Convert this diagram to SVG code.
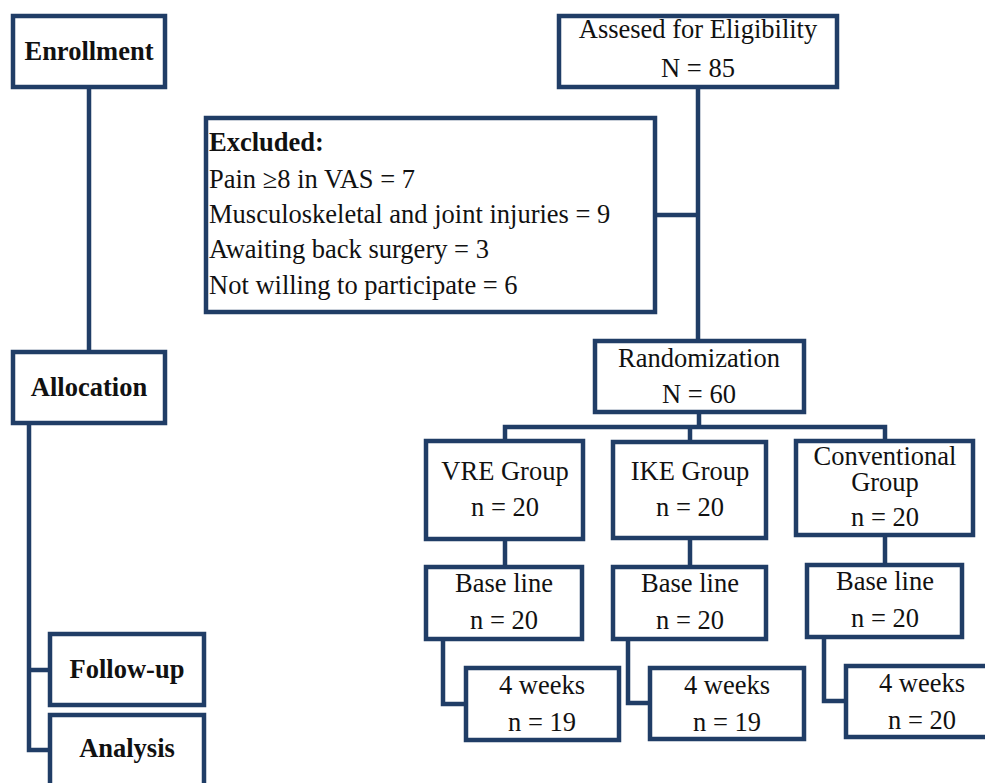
<svg xmlns="http://www.w3.org/2000/svg" width="985" height="783" viewBox="0 0 985 783">
<style>
.box{fill:#fff;stroke:#203d66;stroke-width:4.5}
.ln{fill:none;stroke:#203d66;stroke-width:4.5}
text{font-family:"Liberation Serif","Times New Roman",serif;font-size:26.5px;fill:#111}
.c{text-anchor:middle}
.b{font-weight:bold}
</style>
<rect width="985" height="783" fill="#fff"/>
<g id="connectors">
<path class="ln" d="M89 88V352"/>
<path class="ln" d="M29 423V750H50M29 670H50"/>
<path class="ln" d="M698 87V341M655 215H698"/>
<path class="ln" d="M699 412V427M505 441V427H885V441M690 427V442"/>
<path class="ln" d="M505 539V567M690 538V567M885 535V565"/>
<path class="ln" d="M443 639V704H466M628 639V703H650M824 637V701H846"/>
</g>
<g id="enrollment"><rect class="box" x="13" y="16" width="152" height="71"/><text class="c b" x="89" y="60">Enrollment</text></g>
<g id="allocation"><rect class="box" x="13" y="352" width="152" height="71"/><text class="c b" x="89" y="396">Allocation</text></g>
<g id="followup"><rect class="box" x="50" y="634" width="154" height="71"/><text class="c b" x="127" y="678">Follow-up</text></g>
<g id="analysis"><rect class="box" x="50" y="715" width="154" height="80"/><text class="c b" x="127" y="757">Analysis</text></g>
<g id="assessed"><rect class="box" x="559" y="16" width="278" height="71"/><text class="c" x="698" y="38">Assesed for Eligibility</text><text class="c" x="698" y="77">N = 85</text></g>
<g id="excluded"><rect class="box" x="206" y="118" width="449" height="194"/>
<text class="b" x="209" y="151">Excluded:</text>
<text x="209" y="188">Pain ≥8 in VAS = 7</text>
<text x="209" y="223">Musculoskeletal and joint injuries = 9</text>
<text x="209" y="258">Awaiting back surgery = 3</text>
<text x="209" y="294">Not willing to participate = 6</text></g>
<g id="randomization"><rect class="box" x="595" y="341" width="209" height="71"/><text class="c" x="699" y="367">Randomization</text><text class="c" x="699" y="403">N = 60</text></g>
<g id="vre"><rect class="box" x="426" y="441" width="157" height="98"/><text class="c" x="505" y="480">VRE Group</text><text class="c" x="505" y="516">n = 20</text></g>
<g id="ike"><rect class="box" x="613" y="442" width="153" height="96"/><text class="c" x="690" y="480">IKE Group</text><text class="c" x="690" y="516">n = 20</text></g>
<g id="conv"><rect class="box" x="796" y="441" width="177" height="94"/><text class="c" x="885" y="465">Conventional</text><text class="c" x="885" y="491">Group</text><text class="c" x="885" y="526">n = 20</text></g>
<g id="vre-base"><rect class="box" x="426" y="567" width="156" height="72"/><text class="c" x="504" y="592">Base line</text><text class="c" x="504" y="629">n = 20</text></g>
<g id="ike-base"><rect class="box" x="613" y="567" width="153" height="72"/><text class="c" x="690" y="592">Base line</text><text class="c" x="690" y="629">n = 20</text></g>
<g id="conv-base"><rect class="box" x="807" y="565" width="155" height="72"/><text class="c" x="885" y="590">Base line</text><text class="c" x="885" y="627">n = 20</text></g>
<g id="vre-4w"><rect class="box" x="466" y="668" width="153" height="72"/><text class="c" x="542" y="694">4 weeks</text><text class="c" x="542" y="731">n = 19</text></g>
<g id="ike-4w"><rect class="box" x="650" y="668" width="154" height="71"/><text class="c" x="727" y="694">4 weeks</text><text class="c" x="727" y="731">n = 19</text></g>
<g id="conv-4w"><rect class="box" x="846" y="666" width="154" height="71"/><text class="c" x="922" y="692">4 weeks</text><text class="c" x="922" y="729">n = 20</text></g>
</svg>
